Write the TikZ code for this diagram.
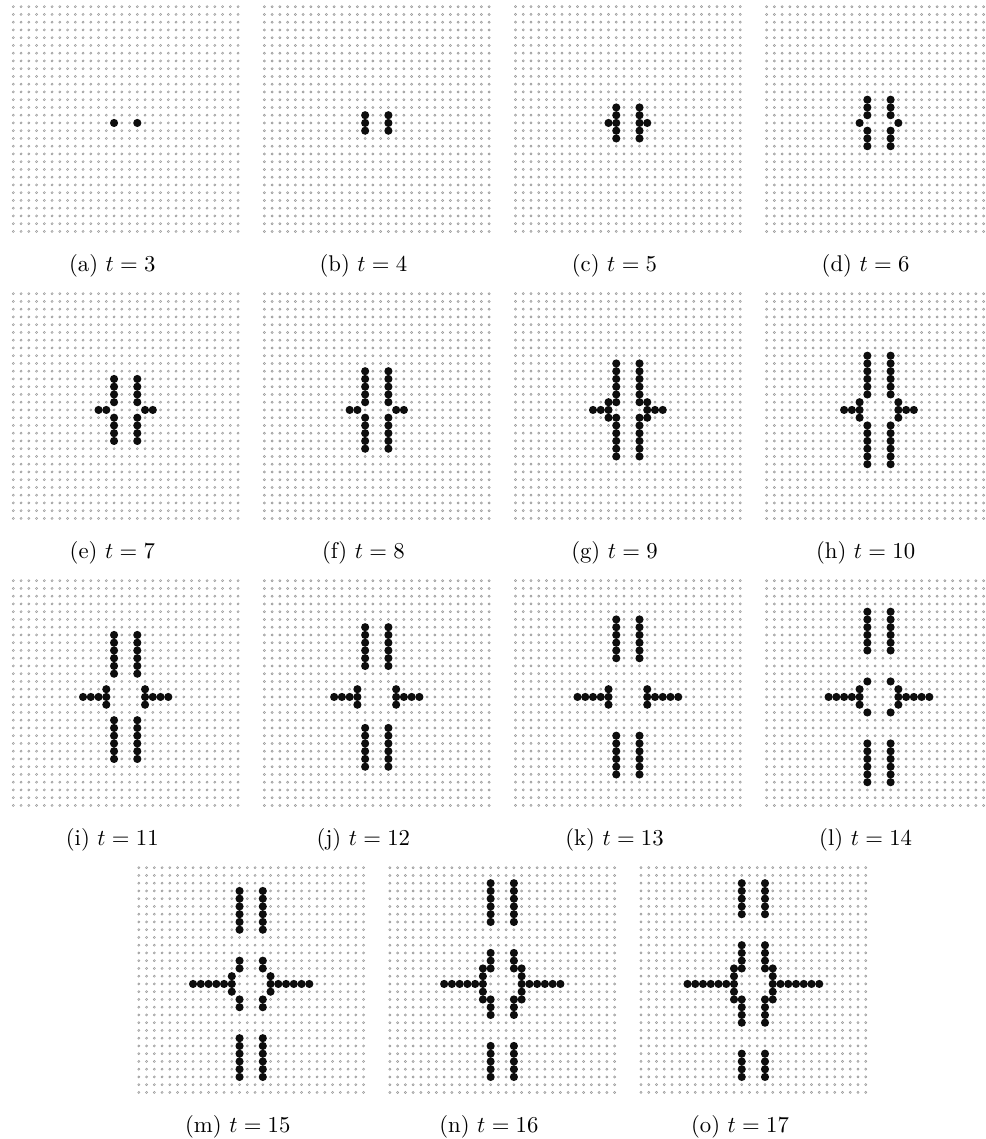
\documentclass[tikz,border=0pt]{standalone}
\begin{document}
\tikzset{
  grid ring/.style={draw=black!40, line width=1.3pt, line cap=round, dash pattern=on 0pt off 3.41pt},
  grid hole/.style={draw=black!10, line width=0.45pt, line cap=round, dash pattern=on 0pt off 3.41pt},
  live dot/.style={fill=black!95},
  panel label/.style={anchor=base, inner sep=0pt, font=\normalsize},
}
\newcommand{\drawpanel}[5]{%
  \begin{scope}[shift={(#1,#2)}]
    \foreach \j in {0,...,29} {
      \draw[grid ring] (0,\j*7.75) -- (225.5,\j*7.75);
      \draw[grid hole] (0,\j*7.75) -- (225.5,\j*7.75);
    }
    \foreach \c/\r in {#5} { \fill[live dot] (\c*7.75,\r*7.75) circle (1.8pt); }
    \node[panel label] (#3) at (99,264.75) {#4};
  \end{scope}
}
\begin{tikzpicture}[x=0.44pt,y=-0.44pt]
\useasboundingbox (0,0) rectangle (986,1139);
% row 1
\drawpanel{13.3}{6.7}{la}{(a) $t=3$}{13/15,16/15}
\drawpanel{264.4}{6.7}{lb}{(b) $t=4$}{13/14,13/15,13/16,16/14,16/15,16/16}
\drawpanel{515.5}{6.7}{lc}{(c) $t=5$}{13/13,13/14,13/15,13/16,13/17,16/13,16/14,16/15,16/16,16/17,12/15,17/15}
\drawpanel{766.6}{6.7}{ld}{(d) $t=6$}{13/12,13/13,13/14,13/16,13/17,13/18,16/12,16/13,16/14,16/16,16/17,16/18,12/15,17/15}
% row 2
\drawpanel{13.3}{293.7}{le}{(e) $t=7$}{13/11,13/12,13/13,13/14,13/16,13/17,13/18,13/19,16/11,16/12,16/13,16/14,16/16,16/17,16/18,16/19,11/15,12/15,17/15,18/15}
\drawpanel{264.4}{293.7}{lf}{(f) $t=8$}{13/10,13/11,13/12,13/13,13/14,13/16,13/17,13/18,13/19,13/20,16/10,16/11,16/12,16/13,16/14,16/16,16/17,16/18,16/19,16/20,11/15,12/15,17/15,18/15}
\drawpanel{515.5}{293.7}{lg}{(g) $t=9$}{13/9,13/10,13/11,13/12,13/13,13/14,13/16,13/17,13/18,13/19,13/20,13/21,16/9,16/10,16/11,16/12,16/13,16/14,16/16,16/17,16/18,16/19,16/20,16/21,12/14,12/15,12/16,17/14,17/15,17/16,10/15,11/15,18/15,19/15}
\drawpanel{766.6}{293.7}{lh}{(h) $t=10$}{13/8,13/9,13/10,13/11,13/12,13/13,13/17,13/18,13/19,13/20,13/21,13/22,16/8,16/9,16/10,16/11,16/12,16/13,16/17,16/18,16/19,16/20,16/21,16/22,12/14,12/15,12/16,17/14,17/15,17/16,10/15,11/15,18/15,19/15}
% row 3
\drawpanel{13.3}{580.7}{li}{(i) $t=11$}{13/7,13/8,13/9,13/10,13/11,13/12,13/18,13/19,13/20,13/21,13/22,13/23,16/7,16/8,16/9,16/10,16/11,16/12,16/18,16/19,16/20,16/21,16/22,16/23,12/14,12/15,12/16,17/14,17/15,17/16,9/15,10/15,11/15,18/15,19/15,20/15}
\drawpanel{264.4}{580.7}{lj}{(j) $t=12$}{13/6,13/7,13/8,13/9,13/10,13/11,13/19,13/20,13/21,13/22,13/23,13/24,16/6,16/7,16/8,16/9,16/10,16/11,16/19,16/20,16/21,16/22,16/23,16/24,12/14,12/15,12/16,17/14,17/15,17/16,9/15,10/15,11/15,18/15,19/15,20/15}
\drawpanel{515.5}{580.7}{lk}{(k) $t=13$}{13/5,13/6,13/7,13/8,13/9,13/10,13/20,13/21,13/22,13/23,13/24,13/25,16/5,16/6,16/7,16/8,16/9,16/10,16/20,16/21,16/22,16/23,16/24,16/25,12/14,12/15,12/16,17/14,17/15,17/16,8/15,9/15,10/15,11/15,18/15,19/15,20/15,21/15}
\drawpanel{766.6}{580.7}{ll}{(l) $t=14$}{13/4,13/5,13/6,13/7,13/8,13/9,13/21,13/22,13/23,13/24,13/25,13/26,16/4,16/5,16/6,16/7,16/8,16/9,16/21,16/22,16/23,16/24,16/25,16/26,13/13,16/13,13/17,16/17,12/14,12/15,12/16,17/14,17/15,17/16,8/15,9/15,10/15,11/15,18/15,19/15,20/15,21/15}
% row 4
\drawpanel{138.8}{867.7}{lm}{(m) $t=15$}{13/3,13/4,13/5,13/6,13/7,13/8,13/22,13/23,13/24,13/25,13/26,13/27,16/3,16/4,16/5,16/6,16/7,16/8,16/22,16/23,16/24,16/25,16/26,16/27,13/12,13/13,13/17,13/18,16/12,16/13,16/17,16/18,12/14,12/15,12/16,17/14,17/15,17/16,7/15,8/15,9/15,10/15,11/15,18/15,19/15,20/15,21/15,22/15}
\drawpanel{389.9}{867.7}{ln}{(n) $t=16$}{13/2,13/3,13/4,13/5,13/6,13/7,13/23,13/24,13/25,13/26,13/27,16/2,16/3,16/4,16/5,16/6,16/7,16/23,16/24,16/25,16/26,16/27,13/11,13/12,13/13,13/17,13/18,13/19,16/11,16/12,16/13,16/17,16/18,16/19,12/13,12/14,12/15,12/16,12/17,17/13,17/14,17/15,17/16,17/17,7/15,8/15,9/15,10/15,11/15,18/15,19/15,20/15,21/15,22/15}
\drawpanel{641.0}{867.7}{lo}{(o) $t=17$}{13/2,13/3,13/4,13/5,13/6,13/24,13/25,13/26,13/27,16/2,16/3,16/4,16/5,16/6,16/24,16/25,16/26,16/27,13/10,13/11,13/12,13/13,13/17,13/18,13/19,13/20,16/10,16/11,16/12,16/13,16/17,16/18,16/19,16/20,12/13,12/14,12/15,12/16,12/17,17/13,17/14,17/15,17/16,17/17,6/15,7/15,8/15,9/15,10/15,11/15,18/15,19/15,20/15,21/15,22/15,23/15}
\end{tikzpicture}
\end{document}
